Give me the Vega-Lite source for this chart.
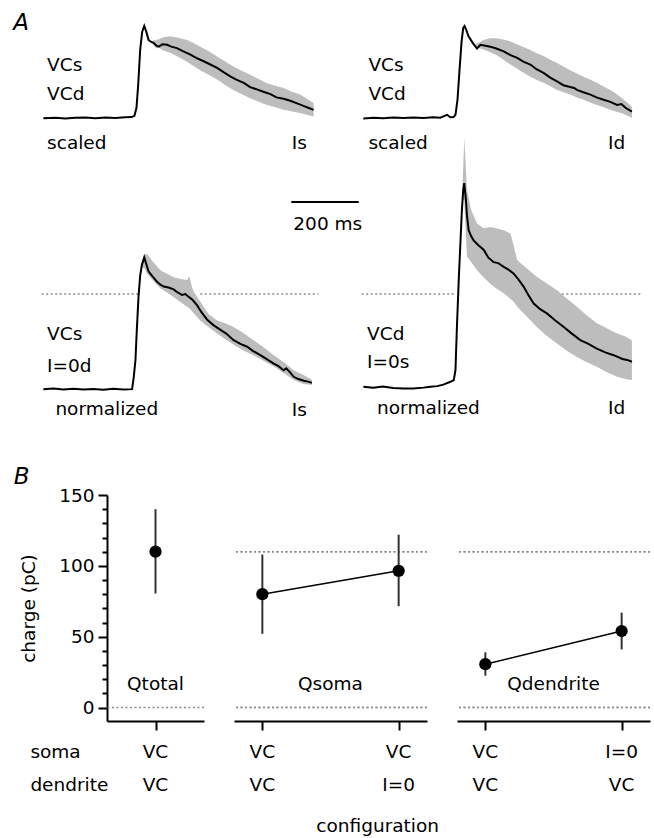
{
"$schema":"https://vega.github.io/schema/vega-lite/v6.json",
"padding":{"left":13,"top":10,"right":2,"bottom":2},
"background":"white",
"config":{
 "view":{"stroke":null},
 "font":"DejaVu Sans",
 "text":{"font":"DejaVu Sans","fontSize":18.5,"color":"black"},
 "axis":{"labelFont":"DejaVu Sans","titleFont":"DejaVu Sans","labelFontSize":18.5,"titleFontSize":18.5,"titleFontWeight":"normal","labelColor":"black","titleColor":"black","domainColor":"black","tickColor":"black","domainWidth":2,"tickWidth":2,"grid":false},
 "title":{"font":"DejaVu Sans","fontSize":18.5,"fontWeight":"normal","color":"black"}
},
"datasets":{
 "mean":[
  {"p":"TL","t":0,"v":-0.2},{"p":"TL","t":36,"v":0.5},{"p":"TL","t":65,"v":-0.3},{"p":"TL","t":95,"v":0.3},{"p":"TL","t":124,"v":0.7},{"p":"TL","t":154,"v":-0.1},{"p":"TL","t":184,"v":0.6},{"p":"TL","t":213,"v":0.1},{"p":"TL","t":243,"v":0.9},{"p":"TL","t":261,"v":1.1},{"p":"TL","t":270,"v":2.4},{"p":"TL","t":276,"v":11},{"p":"TL","t":281,"v":35},{"p":"TL","t":287,"v":73},{"p":"TL","t":293,"v":92},{"p":"TL","t":299,"v":98},{"p":"TL","t":305,"v":92},{"p":"TL","t":312,"v":83},{"p":"TL","t":320,"v":81},{"p":"TL","t":327,"v":80},{"p":"TL","t":335,"v":77},{"p":"TL","t":342,"v":76},{"p":"TL","t":353,"v":78.5},{"p":"TL","t":367,"v":78},{"p":"TL","t":379,"v":76},{"p":"TL","t":396,"v":74.5},{"p":"TL","t":415,"v":71},{"p":"TL","t":436,"v":67.5},{"p":"TL","t":453,"v":64},{"p":"TL","t":475,"v":60.5},{"p":"TL","t":495,"v":57},{"p":"TL","t":515,"v":53.5},{"p":"TL","t":534,"v":49},{"p":"TL","t":554,"v":44.5},{"p":"TL","t":572,"v":41},{"p":"TL","t":594,"v":37.5},{"p":"TL","t":613,"v":33},{"p":"TL","t":633,"v":30.5},{"p":"TL","t":652,"v":28},{"p":"TL","t":673,"v":25.5},{"p":"TL","t":691,"v":22},{"p":"TL","t":712,"v":20.5},{"p":"TL","t":732,"v":18.4},{"p":"TL","t":752,"v":15.7},{"p":"TL","t":771,"v":13},{"p":"TL","t":785,"v":11},{"p":"TL","t":801,"v":8.8},
  {"p":"TR","t":0,"v":-0.3},{"p":"TR","t":30,"v":0.5},{"p":"TR","t":59,"v":-0.2},{"p":"TR","t":89,"v":0.6},{"p":"TR","t":119,"v":0},{"p":"TR","t":148,"v":0.7},{"p":"TR","t":178,"v":0.1},{"p":"TR","t":207,"v":0.9},{"p":"TR","t":228,"v":0.5},{"p":"TR","t":248,"v":3.5},{"p":"TR","t":258,"v":0.9},{"p":"TR","t":267,"v":1.1},{"p":"TR","t":273,"v":3.5},{"p":"TR","t":279,"v":19.5},{"p":"TR","t":285,"v":51},{"p":"TR","t":291,"v":81},{"p":"TR","t":296,"v":96},{"p":"TR","t":300,"v":98},{"p":"TR","t":305,"v":94},{"p":"TR","t":311,"v":87.5},{"p":"TR","t":317,"v":84},{"p":"TR","t":326,"v":79},{"p":"TR","t":337,"v":74},{"p":"TR","t":347,"v":78},{"p":"TR","t":362,"v":77},{"p":"TR","t":376,"v":76},{"p":"TR","t":394,"v":74},{"p":"TR","t":416,"v":71},{"p":"TR","t":436,"v":67},{"p":"TR","t":456,"v":64},{"p":"TR","t":474,"v":60},{"p":"TR","t":495,"v":57},{"p":"TR","t":513,"v":52},{"p":"TR","t":534,"v":48},{"p":"TR","t":554,"v":43},{"p":"TR","t":574,"v":39},{"p":"TR","t":593,"v":35},{"p":"TR","t":613,"v":33},{"p":"TR","t":625,"v":32},{"p":"TR","t":633,"v":30},{"p":"TR","t":652,"v":27.5},{"p":"TR","t":673,"v":25},{"p":"TR","t":691,"v":22},{"p":"TR","t":712,"v":19.5},{"p":"TR","t":732,"v":17.3},{"p":"TR","t":752,"v":14},{"p":"TR","t":765,"v":15},{"p":"TR","t":777,"v":11},{"p":"TR","t":796,"v":7},
  {"p":"BL","t":0,"v":-1.1},{"p":"BL","t":30,"v":-0.5},{"p":"BL","t":59,"v":-1.6},{"p":"BL","t":89,"v":-0.7},{"p":"BL","t":119,"v":-1.6},{"p":"BL","t":148,"v":-0.9},{"p":"BL","t":178,"v":-1.7},{"p":"BL","t":207,"v":-0.6},{"p":"BL","t":237,"v":-1.4},{"p":"BL","t":263,"v":-1.1},{"p":"BL","t":268,"v":12},{"p":"BL","t":273,"v":30},{"p":"BL","t":277,"v":62},{"p":"BL","t":282,"v":97},{"p":"BL","t":287,"v":120},{"p":"BL","t":292,"v":131},{"p":"BL","t":299,"v":139},{"p":"BL","t":305,"v":132},{"p":"BL","t":312,"v":124},{"p":"BL","t":323,"v":119},{"p":"BL","t":337,"v":113},{"p":"BL","t":347,"v":110},{"p":"BL","t":357,"v":108},{"p":"BL","t":371,"v":107},{"p":"BL","t":386,"v":105},{"p":"BL","t":397,"v":102},{"p":"BL","t":411,"v":99},{"p":"BL","t":421,"v":100},{"p":"BL","t":431,"v":97},{"p":"BL","t":442,"v":94},{"p":"BL","t":456,"v":88},{"p":"BL","t":468,"v":81},{"p":"BL","t":485,"v":73},{"p":"BL","t":504,"v":67},{"p":"BL","t":525,"v":62},{"p":"BL","t":542,"v":58},{"p":"BL","t":564,"v":51},{"p":"BL","t":584,"v":47},{"p":"BL","t":604,"v":44},{"p":"BL","t":622,"v":39.4},{"p":"BL","t":643,"v":35},{"p":"BL","t":661,"v":31},{"p":"BL","t":683,"v":26},{"p":"BL","t":697,"v":23.4},{"p":"BL","t":712,"v":19},{"p":"BL","t":720,"v":21},{"p":"BL","t":732,"v":16.5},{"p":"BL","t":742,"v":12},{"p":"BL","t":756,"v":9.6},{"p":"BL","t":772,"v":7.8},{"p":"BL","t":785,"v":6.9},{"p":"BL","t":796,"v":5.6},
  {"p":"BR","t":0,"v":1.4},{"p":"BR","t":29,"v":0.5},{"p":"BR","t":58,"v":1.6},{"p":"BR","t":88,"v":0.2},{"p":"BR","t":119,"v":-0.3},{"p":"BR","t":148,"v":-0.5},{"p":"BR","t":178,"v":0.5},{"p":"BR","t":199,"v":1.4},{"p":"BR","t":219,"v":2.1},{"p":"BR","t":237,"v":3.7},{"p":"BR","t":258,"v":6.7},{"p":"BR","t":268,"v":8.5},{"p":"BR","t":273,"v":19},{"p":"BR","t":277,"v":62},{"p":"BR","t":283,"v":118},{"p":"BR","t":288,"v":157},{"p":"BR","t":292,"v":189},{"p":"BR","t":296,"v":211},{"p":"BR","t":299,"v":218},{"p":"BR","t":304,"v":200},{"p":"BR","t":307,"v":184},{"p":"BR","t":312,"v":168},{"p":"BR","t":319,"v":162},{"p":"BR","t":327,"v":157},{"p":"BR","t":341,"v":152},{"p":"BR","t":357,"v":147},{"p":"BR","t":370,"v":139},{"p":"BR","t":386,"v":134},{"p":"BR","t":400,"v":133},{"p":"BR","t":416,"v":129},{"p":"BR","t":430,"v":126},{"p":"BR","t":445,"v":122},{"p":"BR","t":459,"v":116},{"p":"BR","t":475,"v":108},{"p":"BR","t":489,"v":99},{"p":"BR","t":505,"v":90},{"p":"BR","t":524,"v":84},{"p":"BR","t":544,"v":79.5},{"p":"BR","t":569,"v":72},{"p":"BR","t":594,"v":65},{"p":"BR","t":616,"v":58.5},{"p":"BR","t":643,"v":51},{"p":"BR","t":667,"v":47},{"p":"BR","t":692,"v":42},{"p":"BR","t":717,"v":38},{"p":"BR","t":742,"v":35},{"p":"BR","t":768,"v":31},{"p":"BR","t":782,"v":30},{"p":"BR","t":796,"v":28}
 ],
 "band":[
  {"p":"TL","t":320,"lo":80,"hi":82},{"p":"TL","t":335,"lo":74,"hi":83},{"p":"TL","t":341,"lo":75,"hi":84},{"p":"TL","t":356,"lo":72,"hi":86},{"p":"TL","t":376,"lo":69.5,"hi":87},{"p":"TL","t":400,"lo":65,"hi":85.5},{"p":"TL","t":426,"lo":60,"hi":83},{"p":"TL","t":445,"lo":55.5,"hi":80},{"p":"TL","t":465,"lo":51,"hi":76},{"p":"TL","t":490,"lo":46,"hi":71},{"p":"TL","t":515,"lo":41,"hi":65.5},{"p":"TL","t":540,"lo":35,"hi":60},{"p":"TL","t":563,"lo":30,"hi":55},{"p":"TL","t":588,"lo":25.5,"hi":50.5},{"p":"TL","t":613,"lo":21,"hi":46},{"p":"TL","t":638,"lo":17.5,"hi":41.5},{"p":"TL","t":663,"lo":14,"hi":37},{"p":"TL","t":688,"lo":11.5,"hi":34.5},{"p":"TL","t":712,"lo":9,"hi":32},{"p":"TL","t":737,"lo":7,"hi":28},{"p":"TL","t":761,"lo":5.3,"hi":25},{"p":"TL","t":781,"lo":3.5,"hi":20.5},{"p":"TL","t":801,"lo":1.7,"hi":16},
  {"p":"TR","t":330,"lo":76,"hi":78},{"p":"TR","t":356,"lo":73,"hi":83},{"p":"TR","t":376,"lo":70,"hi":85},{"p":"TR","t":394,"lo":67,"hi":85},{"p":"TR","t":415,"lo":62,"hi":83.5},{"p":"TR","t":436,"lo":57,"hi":81.5},{"p":"TR","t":465,"lo":50.5,"hi":77},{"p":"TR","t":495,"lo":44,"hi":72.5},{"p":"TR","t":514,"lo":40.5,"hi":69},{"p":"TR","t":534,"lo":37.5,"hi":66},{"p":"TR","t":554,"lo":34,"hi":62},{"p":"TR","t":574,"lo":30,"hi":58.5},{"p":"TR","t":593,"lo":27.5,"hi":55},{"p":"TR","t":613,"lo":25,"hi":51},{"p":"TR","t":633,"lo":22,"hi":47.5},{"p":"TR","t":653,"lo":19.5,"hi":44},{"p":"TR","t":672,"lo":16.5,"hi":41},{"p":"TR","t":692,"lo":14,"hi":37.5},{"p":"TR","t":712,"lo":11.5,"hi":33.5},{"p":"TR","t":732,"lo":9,"hi":30},{"p":"TR","t":747,"lo":7,"hi":26.5},{"p":"TR","t":762,"lo":5.6,"hi":22.5},{"p":"TR","t":780,"lo":3,"hi":17},{"p":"TR","t":796,"lo":0,"hi":12},
  {"p":"BL","t":290,"lo":128,"hi":133},{"p":"BL","t":299,"lo":128,"hi":142},{"p":"BL","t":307,"lo":122,"hi":143},{"p":"BL","t":326,"lo":114,"hi":134},{"p":"BL","t":347,"lo":106,"hi":125.5},{"p":"BL","t":365,"lo":102,"hi":122},{"p":"BL","t":386,"lo":97,"hi":118},{"p":"BL","t":406,"lo":91.5,"hi":116},{"p":"BL","t":426,"lo":86.5,"hi":115},{"p":"BL","t":433,"lo":85,"hi":119},{"p":"BL","t":440,"lo":82,"hi":108},{"p":"BL","t":445,"lo":80,"hi":103},{"p":"BL","t":465,"lo":72,"hi":92},{"p":"BL","t":489,"lo":65,"hi":79},{"p":"BL","t":515,"lo":58,"hi":72},{"p":"BL","t":539,"lo":52,"hi":69},{"p":"BL","t":564,"lo":46,"hi":65},{"p":"BL","t":593,"lo":40,"hi":58.5},{"p":"BL","t":623,"lo":35,"hi":51},{"p":"BL","t":652,"lo":29,"hi":43.6},{"p":"BL","t":683,"lo":23,"hi":35},{"p":"BL","t":712,"lo":16,"hi":27.7},{"p":"BL","t":742,"lo":8.5,"hi":19},{"p":"BL","t":771,"lo":4.3,"hi":14},{"p":"BL","t":796,"lo":3.2,"hi":9},
  {"p":"BR","t":292,"lo":185,"hi":200},{"p":"BR","t":296,"lo":200,"hi":235},{"p":"BR","t":299,"lo":200,"hi":266},{"p":"BR","t":303,"lo":170,"hi":240},{"p":"BR","t":307,"lo":140,"hi":211},{"p":"BR","t":320,"lo":134,"hi":189},{"p":"BR","t":337,"lo":125.5,"hi":175},{"p":"BR","t":356,"lo":118,"hi":170},{"p":"BR","t":376,"lo":111,"hi":171.5},{"p":"BR","t":394,"lo":106,"hi":170},{"p":"BR","t":416,"lo":101,"hi":168},{"p":"BR","t":436,"lo":95,"hi":164.5},{"p":"BR","t":445,"lo":92,"hi":152},{"p":"BR","t":456,"lo":86.5,"hi":136},{"p":"BR","t":483,"lo":76.6,"hi":127.7},{"p":"BR","t":514,"lo":65,"hi":118.4},{"p":"BR","t":542,"lo":56,"hi":111.7},{"p":"BR","t":574,"lo":47.5,"hi":104},{"p":"BR","t":602,"lo":40,"hi":95.7},{"p":"BR","t":633,"lo":33,"hi":86.5},{"p":"BR","t":661,"lo":27.7,"hi":77.7},{"p":"BR","t":692,"lo":22.7,"hi":69},{"p":"BR","t":720,"lo":17,"hi":64},{"p":"BR","t":752,"lo":12,"hi":58},{"p":"BR","t":777,"lo":9.6,"hi":55},{"p":"BR","t":796,"lo":8.5,"hi":51}
 ],
 "labels":[
  {"p":"TL","kind":"config","text":"VCs","t":11,"v":56.2},{"p":"TL","kind":"config","text":"VCd","t":11,"v":25.3},{"p":"TL","kind":"mode","text":"scaled","t":11,"v":-26.5},{"p":"TL","kind":"current","text":"Is","t":781,"v":-26.5},
  {"p":"TR","kind":"config","text":"VCs","t":15,"v":56.7},{"p":"TR","kind":"config","text":"VCd","t":15,"v":25.9},{"p":"TR","kind":"mode","text":"scaled","t":15,"v":-26},{"p":"TR","kind":"current","text":"Id","t":776,"v":-26.5},
  {"p":"BL","kind":"config","text":"VCs","t":11,"v":57.2},{"p":"BL","kind":"config","text":"I=0d","t":11,"v":23.6},{"p":"BL","kind":"mode","text":"normalized","t":35.6,"v":-22.6},{"p":"BL","kind":"current","text":"Is","t":781,"v":-23.4},
  {"p":"BR","kind":"config","text":"VCd","t":11,"v":57.2},{"p":"BR","kind":"config","text":"I=0s","t":11,"v":28},{"p":"BR","kind":"mode","text":"normalized","t":40.6,"v":-21.6},{"p":"BR","kind":"current","text":"Id","t":776,"v":-21.6}
 ],
 "charge":[
  {"group":"Qtotal","pos":0,"soma":"VC","dendrite":"VC","q":110,"lo":80.5,"hi":140},
  {"group":"Qsoma","pos":0,"soma":"VC","dendrite":"VC","q":80,"lo":52,"hi":108},
  {"group":"Qsoma","pos":1,"soma":"VC","dendrite":"I=0","q":96.5,"lo":71.5,"hi":122},
  {"group":"Qdendrite","pos":0,"soma":"VC","dendrite":"VC","q":30.6,"lo":22.5,"hi":39},
  {"group":"Qdendrite","pos":1,"soma":"I=0","dendrite":"VC","q":54,"lo":41,"hi":67}
 ]
},
"spacing":45,
"vconcat":[
 {"columns":2,"spacing":{"row":129,"column":40},"bounds":"flush","concat":[
   {"width":280,"height":141,"data":{"name":"labels"},
    "layer":[
     {"data":{"name":"band"},"transform":[{"filter":"datum.p==='TL'"}],"mark":{"type":"area","color":"#bdbdbd","opacity":1},"encoding":{"x":{"field":"t","type":"quantitative","scale":{"domain":[-10,820],"nice":false,"zero":false},"axis":null},"y":{"field":"lo","type":"quantitative","scale":{"domain":[-35,115],"nice":false,"zero":false},"axis":null},"y2":{"field":"hi"}}},
     {"data":{"name":"mean"},"transform":[{"filter":"datum.p==='TL'"}],"mark":{"type":"line","color":"black","strokeWidth":2},"encoding":{"x":{"field":"t","type":"quantitative","axis":null},"y":{"field":"v","type":"quantitative","axis":null}}},
     {"transform":[{"filter":"datum.p==='TL' && datum.kind!=='current'"}],"mark":{"type":"text","align":"left","baseline":"middle"},"encoding":{"x":{"field":"t","type":"quantitative","axis":null},"y":{"field":"v","type":"quantitative","axis":null},"text":{"field":"text"}}},
     {"transform":[{"filter":"datum.p==='TL' && datum.kind==='current'"}],"mark":{"type":"text","align":"right","baseline":"middle"},"encoding":{"x":{"field":"t","type":"quantitative","axis":null},"y":{"field":"v","type":"quantitative","axis":null},"text":{"field":"text"}}},
     {"transform":[{"filter":"datum.p==='TL'"},{"aggregate":[{"op":"count","as":"n"}]}],"mark":{"type":"text","text":"A","align":"left","baseline":"middle","fontSize":23,"fontStyle":"italic"},"encoding":{"x":{"datum":-89,"type":"quantitative","axis":null},"y":{"datum":101,"type":"quantitative","axis":null}}}
    ]},
   {"width":280,"height":141,"data":{"name":"labels"},
    "layer":[
     {"data":{"name":"band"},"transform":[{"filter":"datum.p==='TR'"}],"mark":{"type":"area","color":"#bdbdbd","opacity":1},"encoding":{"x":{"field":"t","type":"quantitative","scale":{"domain":[-10,820],"nice":false,"zero":false},"axis":null},"y":{"field":"lo","type":"quantitative","scale":{"domain":[-35,115],"nice":false,"zero":false},"axis":null},"y2":{"field":"hi"}}},
     {"data":{"name":"mean"},"transform":[{"filter":"datum.p==='TR'"}],"mark":{"type":"line","color":"black","strokeWidth":2},"encoding":{"x":{"field":"t","type":"quantitative","axis":null},"y":{"field":"v","type":"quantitative","axis":null}}},
     {"transform":[{"filter":"datum.p==='TR' && datum.kind!=='current'"}],"mark":{"type":"text","align":"left","baseline":"middle"},"encoding":{"x":{"field":"t","type":"quantitative","axis":null},"y":{"field":"v","type":"quantitative","axis":null},"text":{"field":"text"}}},
     {"transform":[{"filter":"datum.p==='TR' && datum.kind==='current'"}],"mark":{"type":"text","align":"right","baseline":"middle"},"encoding":{"x":{"field":"t","type":"quantitative","axis":null},"y":{"field":"v","type":"quantitative","axis":null},"text":{"field":"text"}}}
    ]},
   {"width":280,"height":141,"data":{"name":"labels"},
    "layer":[
     {"transform":[{"filter":"datum.p==='BL'"},{"aggregate":[{"op":"count","as":"n"}]}],"mark":{"type":"rule","color":"#8a8a8a","strokeDash":[2,2.5],"strokeWidth":1.5},"encoding":{"x":{"datum":-5,"type":"quantitative","scale":{"domain":[-10,820],"nice":false,"zero":false},"axis":null},"x2":{"datum":282},"y":{"datum":100,"type":"quantitative","scale":{"domain":[-35,115],"nice":false,"zero":false},"axis":null}}},
     {"transform":[{"filter":"datum.p==='BL'"},{"aggregate":[{"op":"count","as":"n"}]}],"mark":{"type":"rule","color":"#8a8a8a","strokeDash":[2,2.5],"strokeWidth":1.5},"encoding":{"x":{"datum":465,"type":"quantitative","axis":null},"x2":{"datum":815},"y":{"datum":100,"type":"quantitative","axis":null}}},
     {"data":{"name":"band"},"transform":[{"filter":"datum.p==='BL'"}],"mark":{"type":"area","color":"#bdbdbd","opacity":1},"encoding":{"x":{"field":"t","type":"quantitative","axis":null},"y":{"field":"lo","type":"quantitative","axis":null},"y2":{"field":"hi"}}},
     {"data":{"name":"mean"},"transform":[{"filter":"datum.p==='BL'"}],"mark":{"type":"line","color":"black","strokeWidth":2},"encoding":{"x":{"field":"t","type":"quantitative","axis":null},"y":{"field":"v","type":"quantitative","axis":null}}},
     {"transform":[{"filter":"datum.p==='BL' && datum.kind!=='current'"}],"mark":{"type":"text","align":"left","baseline":"middle"},"encoding":{"x":{"field":"t","type":"quantitative","axis":null},"y":{"field":"v","type":"quantitative","axis":null},"text":{"field":"text"}}},
     {"transform":[{"filter":"datum.p==='BL' && datum.kind==='current'"}],"mark":{"type":"text","align":"right","baseline":"middle"},"encoding":{"x":{"field":"t","type":"quantitative","axis":null},"y":{"field":"v","type":"quantitative","axis":null},"text":{"field":"text"}}},
     {"transform":[{"filter":"datum.p==='BL'"},{"aggregate":[{"op":"count","as":"n"}]}],"mark":{"type":"rule","color":"black","strokeWidth":2},"encoding":{"x":{"datum":735,"type":"quantitative","axis":null},"x2":{"datum":935},"y":{"datum":198,"type":"quantitative","axis":null}}},
     {"transform":[{"filter":"datum.p==='BL'"},{"aggregate":[{"op":"count","as":"n"}]}],"mark":{"type":"text","text":"200 ms","align":"left","baseline":"middle"},"encoding":{"x":{"datum":741,"type":"quantitative","axis":null},"y":{"datum":175,"type":"quantitative","axis":null}}}
    ]},
   {"width":280,"height":141,"data":{"name":"labels"},
    "layer":[
     {"transform":[{"filter":"datum.p==='BR'"},{"aggregate":[{"op":"count","as":"n"}]}],"mark":{"type":"rule","color":"#8a8a8a","strokeDash":[2,2.5],"strokeWidth":1.5},"encoding":{"x":{"datum":-5,"type":"quantitative","scale":{"domain":[-10,820],"nice":false,"zero":false},"axis":null},"x2":{"datum":273},"y":{"datum":100,"type":"quantitative","scale":{"domain":[-35,115],"nice":false,"zero":false},"axis":null}}},
     {"transform":[{"filter":"datum.p==='BR'"},{"aggregate":[{"op":"count","as":"n"}]}],"mark":{"type":"rule","color":"#8a8a8a","strokeDash":[2,2.5],"strokeWidth":1.5},"encoding":{"x":{"datum":575,"type":"quantitative","axis":null},"x2":{"datum":826},"y":{"datum":100,"type":"quantitative","axis":null}}},
     {"data":{"name":"band"},"transform":[{"filter":"datum.p==='BR'"}],"mark":{"type":"area","color":"#bdbdbd","opacity":1},"encoding":{"x":{"field":"t","type":"quantitative","axis":null},"y":{"field":"lo","type":"quantitative","axis":null},"y2":{"field":"hi"}}},
     {"data":{"name":"mean"},"transform":[{"filter":"datum.p==='BR'"}],"mark":{"type":"line","color":"black","strokeWidth":2},"encoding":{"x":{"field":"t","type":"quantitative","axis":null},"y":{"field":"v","type":"quantitative","axis":null}}},
     {"transform":[{"filter":"datum.p==='BR' && datum.kind!=='current'"}],"mark":{"type":"text","align":"left","baseline":"middle"},"encoding":{"x":{"field":"t","type":"quantitative","axis":null},"y":{"field":"v","type":"quantitative","axis":null},"text":{"field":"text"}}},
     {"transform":[{"filter":"datum.p==='BR' && datum.kind==='current'"}],"mark":{"type":"text","align":"right","baseline":"middle"},"encoding":{"x":{"field":"t","type":"quantitative","axis":null},"y":{"field":"v","type":"quantitative","axis":null},"text":{"field":"text"}}}
    ]}
 ]},
 {"spacing":30,"bounds":"flush",
  "hconcat":[
   {"width":37,"height":226,
    "data":{"name":"charge"},"transform":[{"aggregate":[{"op":"count","as":"n"}]}],
    "layer":[
     {"mark":{"type":"text","text":"soma","align":"left","baseline":"middle"},"encoding":{"x":{"datum":-0.26,"type":"quantitative","scale":{"domain":[0,1],"nice":false,"zero":false},"axis":null},"y":{"datum":-31.6,"type":"quantitative","scale":{"domain":[-9.5,150],"nice":false,"zero":false},"axis":null}}},
     {"mark":{"type":"text","text":"dendrite","align":"left","baseline":"middle"},"encoding":{"x":{"datum":-0.26,"type":"quantitative","axis":null},"y":{"datum":-54.9,"type":"quantitative","axis":null}}},
     {"mark":{"type":"text","text":"B","align":"left","baseline":"middle","fontSize":23,"fontStyle":"italic"},"encoding":{"x":{"datum":-0.71,"type":"quantitative","axis":null},"y":{"datum":162.6,"type":"quantitative","axis":null}}}
    ]},
   {"width":97,"height":226,
    "data":{"name":"charge"},"transform":[{"filter":"datum.group==='Qtotal'"}],
    "layer":[
     {"mark":{"type":"rule","color":"#333333","strokeWidth":2},"encoding":{
       "x":{"field":"pos","type":"quantitative","scale":{"domain":[-1,1],"nice":false,"zero":false},"axis":{"values":[0],"labels":false,"title":null,"tickSize":9}},
       "y":{"field":"lo","type":"quantitative","scale":{"domain":[-9.5,150],"nice":false,"zero":false},"axis":{"values":[0,10,20,30,40,50,60,70,80,90,100,110,120,130,140,150],"labelExpr":"datum.value % 50 === 0 ? datum.label : ''","labelOverlap":false,"tickSize":{"condition":{"test":"datum.value % 50 === 0","value":9},"value":5},"title":"charge (pC)","labelPadding":4,"titlePadding":20}},
       "y2":{"field":"hi"}}},
     {"mark":{"type":"rule","color":"#8a8a8a","strokeDash":[2,2.5],"strokeWidth":1.5},"encoding":{"y":{"datum":0,"type":"quantitative","axis":{"values":[0,10,20,30,40,50,60,70,80,90,100,110,120,130,140,150],"labelExpr":"datum.value % 50 === 0 ? datum.label : ''","labelOverlap":false,"tickSize":{"condition":{"test":"datum.value % 50 === 0","value":9},"value":5},"title":"charge (pC)","labelPadding":4,"titlePadding":20}}}},
     {"mark":{"type":"circle","size":150,"color":"black","opacity":1},"encoding":{"x":{"field":"pos","type":"quantitative","axis":{"values":[0],"labels":false,"title":null,"tickSize":9}},"y":{"field":"q","type":"quantitative","axis":{"values":[0,10,20,30,40,50,60,70,80,90,100,110,120,130,140,150],"labelExpr":"datum.value % 50 === 0 ? datum.label : ''","labelOverlap":false,"tickSize":{"condition":{"test":"datum.value % 50 === 0","value":9},"value":5},"title":"charge (pC)","labelPadding":4,"titlePadding":20}}}},
     {"mark":{"type":"text","baseline":"middle"},"encoding":{"x":{"field":"pos","type":"quantitative","axis":{"values":[0],"labels":false,"title":null,"tickSize":9}},"y":{"datum":-31.6,"type":"quantitative","axis":{"values":[0,10,20,30,40,50,60,70,80,90,100,110,120,130,140,150],"labelExpr":"datum.value % 50 === 0 ? datum.label : ''","labelOverlap":false,"tickSize":{"condition":{"test":"datum.value % 50 === 0","value":9},"value":5},"title":"charge (pC)","labelPadding":4,"titlePadding":20}},"text":{"field":"soma"}}},
     {"mark":{"type":"text","baseline":"middle"},"encoding":{"x":{"field":"pos","type":"quantitative","axis":{"values":[0],"labels":false,"title":null,"tickSize":9}},"y":{"datum":-54.9,"type":"quantitative","axis":{"values":[0,10,20,30,40,50,60,70,80,90,100,110,120,130,140,150],"labelExpr":"datum.value % 50 === 0 ? datum.label : ''","labelOverlap":false,"tickSize":{"condition":{"test":"datum.value % 50 === 0","value":9},"value":5},"title":"charge (pC)","labelPadding":4,"titlePadding":20}},"text":{"field":"dendrite"}}},
     {"transform":[{"aggregate":[{"op":"count","as":"n"}],"groupby":["group"]}],"mark":{"type":"text","baseline":"middle"},"encoding":{"x":{"datum":0,"type":"quantitative","axis":{"values":[0],"labels":false,"title":null,"tickSize":9}},"y":{"datum":16.5,"type":"quantitative","axis":{"values":[0,10,20,30,40,50,60,70,80,90,100,110,120,130,140,150],"labelExpr":"datum.value % 50 === 0 ? datum.label : ''","labelOverlap":false,"tickSize":{"condition":{"test":"datum.value % 50 === 0","value":9},"value":5},"title":"charge (pC)","labelPadding":4,"titlePadding":20}},"text":{"field":"group"}}}
    ]},
   {"width":193,"height":226,
    "data":{"name":"charge"},"transform":[{"filter":"datum.group==='Qsoma'"}],
    "layer":[
     {"mark":{"type":"rule","color":"#8a8a8a","strokeDash":[2,2.5],"strokeWidth":1.5},"encoding":{"y":{"datum":0,"type":"quantitative","scale":{"domain":[-9.5,150],"nice":false,"zero":false},"axis":null}}},
     {"mark":{"type":"rule","color":"#8a8a8a","strokeDash":[2,2.5],"strokeWidth":1.5},"encoding":{"y":{"datum":110,"type":"quantitative","axis":null}}},
     {"mark":{"type":"line","color":"black","strokeWidth":1.5},"encoding":{
       "x":{"field":"pos","type":"quantitative","scale":{"domain":[-0.208,1.208],"nice":false,"zero":false},"axis":{"values":[0,1],"labels":false,"title":null,"tickSize":9}},
       "y":{"field":"q","type":"quantitative","axis":null}}},
     {"mark":{"type":"rule","color":"#333333","strokeWidth":2},"encoding":{"x":{"field":"pos","type":"quantitative","axis":{"values":[0,1],"labels":false,"title":null,"tickSize":9}},"y":{"field":"lo","type":"quantitative","axis":null},"y2":{"field":"hi"}}},
     {"mark":{"type":"circle","size":150,"color":"black","opacity":1},"encoding":{"x":{"field":"pos","type":"quantitative","axis":{"values":[0,1],"labels":false,"title":null,"tickSize":9}},"y":{"field":"q","type":"quantitative","axis":null}}},
     {"mark":{"type":"text","baseline":"middle"},"encoding":{"x":{"field":"pos","type":"quantitative","axis":{"values":[0,1],"labels":false,"title":null,"tickSize":9}},"y":{"datum":-31.6,"type":"quantitative","axis":null},"text":{"field":"soma"}}},
     {"mark":{"type":"text","baseline":"middle"},"encoding":{"x":{"field":"pos","type":"quantitative","axis":{"values":[0,1],"labels":false,"title":null,"tickSize":9}},"y":{"datum":-54.9,"type":"quantitative","axis":null},"text":{"field":"dendrite"}}},
     {"transform":[{"aggregate":[{"op":"count","as":"n"}],"groupby":["group"]}],"mark":{"type":"text","baseline":"middle"},"encoding":{"x":{"datum":0.5,"type":"quantitative","axis":{"values":[0,1],"labels":false,"title":null,"tickSize":9}},"y":{"datum":16.5,"type":"quantitative","axis":null},"text":{"field":"group"}}},
     {"transform":[{"aggregate":[{"op":"count","as":"n"}]}],"mark":{"type":"text","text":"configuration","baseline":"middle"},"encoding":{"x":{"datum":0.846,"type":"quantitative","axis":{"values":[0,1],"labels":false,"title":null,"tickSize":9}},"y":{"datum":-83.5,"type":"quantitative","axis":null}}}
    ]},
   {"width":193,"height":226,
    "data":{"name":"charge"},"transform":[{"filter":"datum.group==='Qdendrite'"}],
    "layer":[
     {"mark":{"type":"rule","color":"#8a8a8a","strokeDash":[2,2.5],"strokeWidth":1.5},"encoding":{"y":{"datum":0,"type":"quantitative","scale":{"domain":[-9.5,150],"nice":false,"zero":false},"axis":null}}},
     {"mark":{"type":"rule","color":"#8a8a8a","strokeDash":[2,2.5],"strokeWidth":1.5},"encoding":{"y":{"datum":110,"type":"quantitative","axis":null}}},
     {"mark":{"type":"line","color":"black","strokeWidth":1.5},"encoding":{
       "x":{"field":"pos","type":"quantitative","scale":{"domain":[-0.208,1.208],"nice":false,"zero":false},"axis":{"values":[0,1],"labels":false,"title":null,"tickSize":9}},
       "y":{"field":"q","type":"quantitative","axis":null}}},
     {"mark":{"type":"rule","color":"#333333","strokeWidth":2},"encoding":{"x":{"field":"pos","type":"quantitative","axis":{"values":[0,1],"labels":false,"title":null,"tickSize":9}},"y":{"field":"lo","type":"quantitative","axis":null},"y2":{"field":"hi"}}},
     {"mark":{"type":"circle","size":150,"color":"black","opacity":1},"encoding":{"x":{"field":"pos","type":"quantitative","axis":{"values":[0,1],"labels":false,"title":null,"tickSize":9}},"y":{"field":"q","type":"quantitative","axis":null}}},
     {"mark":{"type":"text","baseline":"middle"},"encoding":{"x":{"field":"pos","type":"quantitative","axis":{"values":[0,1],"labels":false,"title":null,"tickSize":9}},"y":{"datum":-31.6,"type":"quantitative","axis":null},"text":{"field":"soma"}}},
     {"mark":{"type":"text","baseline":"middle"},"encoding":{"x":{"field":"pos","type":"quantitative","axis":{"values":[0,1],"labels":false,"title":null,"tickSize":9}},"y":{"datum":-54.9,"type":"quantitative","axis":null},"text":{"field":"dendrite"}}},
     {"transform":[{"aggregate":[{"op":"count","as":"n"}],"groupby":["group"]}],"mark":{"type":"text","baseline":"middle"},"encoding":{"x":{"datum":0.5,"type":"quantitative","axis":{"values":[0,1],"labels":false,"title":null,"tickSize":9}},"y":{"datum":16.5,"type":"quantitative","axis":null},"text":{"field":"group"}}}
    ]}
  ]}
]
}
